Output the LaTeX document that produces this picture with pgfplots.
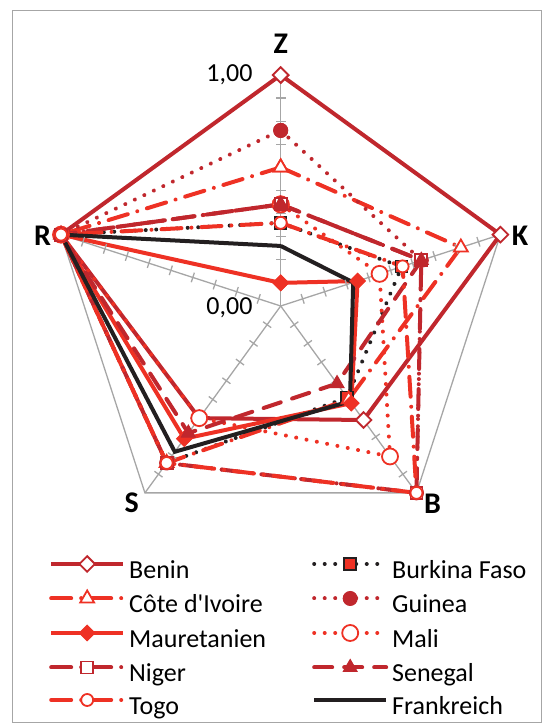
\documentclass[border=0pt]{standalone}
\usepackage{fontspec}
\setmainfont{Carlito}[Ligatures=TeXOff]
\usepackage{pgfplots}
\pgfplotsset{compat=1.18}
\usepgfplotslibrary{polar}

\definecolor{dred}{RGB}{192,39,45}
\definecolor{lred}{RGB}{238,49,36}
\definecolor{fblack}{RGB}{35,31,32}
\definecolor{spoke}{RGB}{166,166,166}

\tikzset{
  dotl/.style={line cap=round, dash pattern=on 0.01bp off 10.5bp},
  ldd/.style={line cap=round, dash pattern=on 20bp off 10bp on 0.01bp off 10bp},
  dsh/.style={line cap=round, dash pattern=on 18bp off 12bp},
  catlab/.style={font=\fontsize{30bp}{36bp}\selectfont\bfseries},
}

\newcommand{\entry}[1]{\makebox[187bp][l]{\hspace{4bp}#1}}

\begin{document}
\fontsize{26bp}{31bp}\selectfont
\begin{tikzpicture}
\begin{polaraxis}[
  hide axis,
  scale only axis, width=462bp, height=462bp,
  ymin=0, ymax=1,
  clip=false,
  legend columns=2,
  legend style={at={(0.5,0.5)}, anchor=north west, xshift=-231.7bp, yshift=-250bp,
    draw=none, fill=none, inner sep=0pt, column sep=0pt, row sep=6bp,
    nodes={inner sep=0pt, text height=18bp, text depth=6bp}},
  legend image code/.code={\draw[mark repeat=2,mark phase=2,#1] plot coordinates {(0bp,8.5bp)(36bp,8.5bp)(72bp,8.5bp)};},
]
% grid: outer pentagon, spokes and their ticks
\addplot[spoke, line width=1.3bp, forget plot] coordinates {(90,1)(18,1)(306,1)(234,1)(162,1)(90,1)};
\addplot[spoke, line width=1.3bp, forget plot] coordinates {(90,0)(90,1)};
\addplot[spoke, line width=1.3bp, forget plot] coordinates {(18,0)(18,1)};
\addplot[spoke, line width=1.3bp, forget plot] coordinates {(306,0)(306,1)};
\addplot[spoke, line width=1.3bp, forget plot] coordinates {(234,0)(234,1)};
\addplot[spoke, line width=1.3bp, forget plot] coordinates {(162,0)(162,1)};
\addplot[only marks, forget plot, mark=-, mark size=5bp, mark options={draw=spoke, line width=1.3bp, rotate=0}]
  coordinates {(90,0.1)(90,0.2)(90,0.3)(90,0.4)(90,0.5)(90,0.6)(90,0.7)(90,0.8)(90,0.9)};
\addplot[only marks, forget plot, mark=-, mark size=5bp, mark options={draw=spoke, line width=1.3bp, rotate=-72}]
  coordinates {(18,0.1)(18,0.2)(18,0.3)(18,0.4)(18,0.5)(18,0.6)(18,0.7)(18,0.8)(18,0.9)};
\addplot[only marks, forget plot, mark=-, mark size=5bp, mark options={draw=spoke, line width=1.3bp, rotate=216}]
  coordinates {(306,0.1)(306,0.2)(306,0.3)(306,0.4)(306,0.5)(306,0.6)(306,0.7)(306,0.8)(306,0.9)};
\addplot[only marks, forget plot, mark=-, mark size=5bp, mark options={draw=spoke, line width=1.3bp, rotate=144}]
  coordinates {(234,0.1)(234,0.2)(234,0.3)(234,0.4)(234,0.5)(234,0.6)(234,0.7)(234,0.8)(234,0.9)};
\addplot[only marks, forget plot, mark=-, mark size=5bp, mark options={draw=spoke, line width=1.3bp, rotate=72}]
  coordinates {(162,0.1)(162,0.2)(162,0.3)(162,0.4)(162,0.5)(162,0.6)(162,0.7)(162,0.8)(162,0.9)};

% series: Z (90), K (18), B (306), S (234), R (162)
\addplot[dred, line width=4bp, mark=square*, mark size=5.5bp,
  mark options={rotate=45, fill=white, line width=1.8bp, solid}]
  coordinates {(90,1.00)(18,1.00)(306,0.61)(234,0.60)(162,1.00)(90,1.00)};
\addlegendentry{\entry{Benin}}
\addplot[fblack, line width=4bp, dotl, mark=square*, mark size=6bp,
  mark options={fill=lred, draw=fblack, line width=1.5bp, solid}]
  coordinates {(90,0.36)(18,0.55)(306,0.49)(234,0.84)(162,1.00)(90,0.36)};
\addlegendentry{\entry{Burkina Faso}}
\addplot[lred, line width=4bp, ldd, mark=triangle*, mark size=8bp,
  mark options={fill=white, line width=1.8bp, solid}]
  coordinates {(90,0.60)(18,0.82)(306,0.50)(234,0.84)(162,1.00)(90,0.60)};
\addlegendentry{\entry{Côte d'Ivoire}}
\addplot[dred, line width=4bp, dotl, mark=*, mark size=7bp,
  mark options={fill=dred, line width=1bp, solid}]
  coordinates {(90,0.76)(18,0.64)(306,1.00)(234,0.84)(162,1.00)(90,0.76)};
\addlegendentry{\entry{Guinea}}
\addplot[lred, line width=4bp, mark=square*, mark size=5.5bp,
  mark options={rotate=45, fill=lred, line width=1bp, solid}]
  coordinates {(90,0.10)(18,0.35)(306,0.52)(234,0.71)(162,1.00)(90,0.10)};
\addlegendentry{\entry{Mauretanien}}
\addplot[lred, line width=4bp, dotl, mark=*, mark size=8bp,
  mark options={fill=white, line width=1.8bp, solid}]
  coordinates {(90,0.44)(18,0.45)(306,0.805)(234,0.60)(162,1.00)(90,0.44)};
\addlegendentry{\entry{Mali}}
\addplot[dred, line width=4bp, ldd, mark=square*, mark size=6bp,
  mark options={fill=white, line width=1.8bp, solid}]
  coordinates {(90,0.44)(18,0.64)(306,1.00)(234,0.84)(162,1.00)(90,0.44)};
\addlegendentry{\entry{Niger}}
\addplot[dred, line width=4bp, dsh, mark=triangle*, mark size=8bp,
  mark options={fill=dred, line width=1bp, solid}]
  coordinates {(90,0.44)(18,0.64)(306,0.415)(234,0.68)(162,1.00)(90,0.44)};
\addlegendentry{\entry{Senegal}}
\addplot[lred, line width=4bp, ldd, mark=*, mark size=6bp,
  mark options={fill=white, line width=1.8bp, solid}]
  coordinates {(90,0.36)(18,0.555)(306,1.00)(234,0.84)(162,1.00)(90,0.36)};
\addlegendentry{\entry{Togo}}
\addplot[fblack, line width=4bp, mark=none]
  coordinates {(90,0.26)(18,0.33)(306,0.51)(234,0.78)(162,1.00)(90,0.26)};
\addlegendentry{\entry{Frankreich}}

% category labels and scale labels
\node[catlab] at (axis cs:90,1.134) {Z};
\node[catlab] at (axis cs:16.4,1.08) {K};
\node[catlab] at (axis cs:307.6,1.078) {B};
\node[catlab] at (axis cs:232.9,1.07) {S};
\node[catlab] at (axis cs:163.6,1.075) {R};
\node[anchor=east, fill=white, inner sep=1bp, xshift=-27bp] at (axis cs:90,1) {1,00};
\node[anchor=east, inner sep=1bp, xshift=-27bp, yshift=-2bp] at (axis cs:0,0) {0,00};
\coordinate (c) at (axis cs:0,0);
\end{polaraxis}
\pgfresetboundingbox
\path[shift={(c)}] (-280.7bp,-418bp) rectangle (262.3bp,306bp);
\draw[shift={(c)}, spoke, line width=1bp] (-268.2bp,-416bp) rectangle (260.3bp,295bp);
\end{tikzpicture}
\end{document}
